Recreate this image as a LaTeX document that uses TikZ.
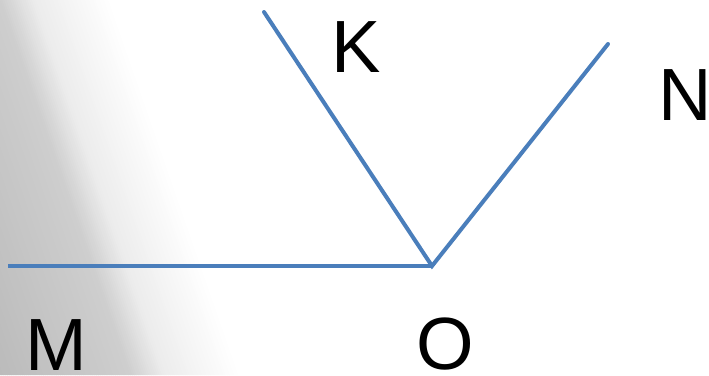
\documentclass[tikz,border=0pt]{standalone}
\usepackage{fontspec}
\setmainfont{Liberation Sans}
\definecolor{ln}{HTML}{4A7EBB}
\begin{document}
\begin{tikzpicture}[x=1pt,y=-1pt,
  seg/.style={draw=ln,line width=4pt},
  lbl/.style={font=\fontsize{74}{74}\selectfont,inner sep=0pt,anchor=center}]
\useasboundingbox (0,0) rectangle (709,375);
\fill[white] (0,0) rectangle (709,375);
\begin{scope}
\clip (0,0) rectangle (709,375);
\foreach \i in {0,...,115}{
  \pgfmathsetmacro\ua{-124+2*\i}
  \pgfmathsetmacro\um{\ua+1}
  \pgfmathsetmacro\g{\um<0 ? (187+19*(\um+123)/123) : (\um<32 ? (206+30*\um/32) : min(255,236+19*(\um-32)/72))}
  \pgfmathsetmacro\gg{\g/255}
  \pgfmathsetmacro\xa{\ua*1.0584}
  \pgfmathsetmacro\xb{(\ua+2.6)*1.0584}
  \definecolor{tmpg}{gray}{\gg}
  \fill[tmpg] (\xa,0) -- (\xb,0) -- (\xb+130,375) -- (\xa+130,375) -- cycle;
}
\end{scope}
\coordinate (O) at (432,266);
\coordinate (M) at (8,266);
\coordinate (K) at (264,12);
\coordinate (N) at (608,44);
\draw[seg] (M) -- (O);
\draw[seg,line cap=round] (K) -- (O) -- (N);
\node[lbl] (k) at (356,47.5) {K};
\node[lbl] (n) at (685,95.5) {N};
\node[lbl] (m) at (56,345) {M};
\node[lbl] (o) at (445,344) {O};
\end{tikzpicture}
\end{document}
